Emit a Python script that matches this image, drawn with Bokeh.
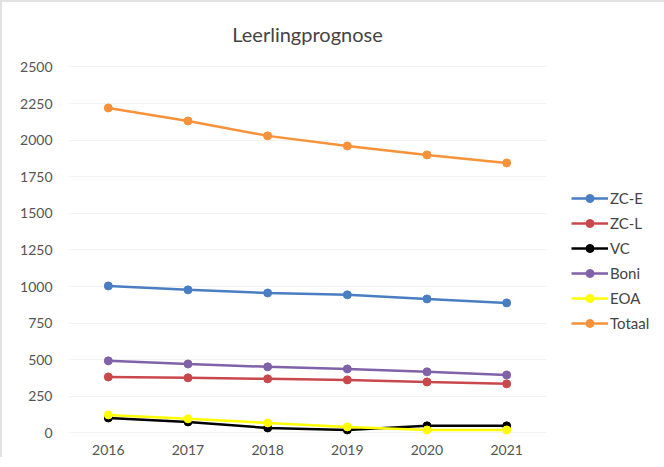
from bokeh.plotting import figure
from bokeh.models import Legend, LegendItem, FactorRange, Range1d, SingleIntervalTicker
from bokeh.embed import file_html
from bokeh.resources import INLINE

years = ["2016", "2017", "2018", "2019", "2020", "2021"]
zc_e = [1004, 977, 956, 943, 915, 888]
zc_l = [382, 376, 369, 362, 348, 335]
vc = [102, 75, 34, 20, 48, 48]
boni = [492, 471, 451, 437, 417, 396]
eoa = [123, 96, 68, 41, 20, 20]
totaal = [2220, 2131, 2029, 1960, 1899, 1844]

series = [
    ("ZC-E", zc_e, "#4a7ec2"),
    ("ZC-L", zc_l, "#c9484c"),
    ("VC", vc, "#000000"),
    ("Boni", boni, "#7f62a8"),
    ("EOA", eoa, "#ffff00"),
    ("Totaal", totaal, "#f7923a"),
]

FONT = "Lato"

p = figure(frame_width=478, frame_height=397, x_range=FactorRange(*years),
           y_range=Range1d(-52, 2660), output_backend="svg",
           toolbar_location=None, title="Leerlingprognose",
           min_border_left=66, min_border_right=105, min_border_top=41, min_border_bottom=0)
p.styles = {"border-top": "2px solid #e2e2e2", "border-left": "2px solid #e2e2e2"}
p.title.align = "center"
p.title.offset = 15
p.title.text_font = FONT
p.title.text_font_style = "normal"
p.title.text_font_size = "20px"
p.title.text_color = "#444444"
p.title.standoff = -4
p.outline_line_color = None

p.yaxis.ticker = SingleIntervalTicker(interval=250)
for ax in (p.xaxis[0], p.yaxis[0]):
    ax.axis_line_color = None
    ax.major_tick_line_color = None
    ax.minor_tick_line_color = None
    ax.major_label_text_font = FONT
    ax.major_label_text_font_size = "14px"
    ax.major_label_text_color = "#555555"
p.yaxis.major_label_standoff = 10
p.xaxis.major_label_standoff = -2
p.xgrid.grid_line_color = None
p.ygrid.grid_line_color = "#f2f2f2"

items = []
for name, vals, col in series:
    r1 = p.line(years, vals, line_color=col, line_width=2.5)
    r2 = p.scatter(years, vals, size=8, fill_color=col, line_color=col)
    items.append(LegendItem(label=name, renderers=[r1, r2]))

legend = Legend(items=items, location=(25, 107), border_line_color=None,
                background_fill_alpha=0, label_text_font=FONT,
                label_text_font_size="15px", label_text_color="#444444",
                glyph_width=37, spacing=5, label_standoff=2, padding=0, margin=0)
p.add_layout(legend, "right")

open("out.html", "w").write(file_html(p, INLINE))
